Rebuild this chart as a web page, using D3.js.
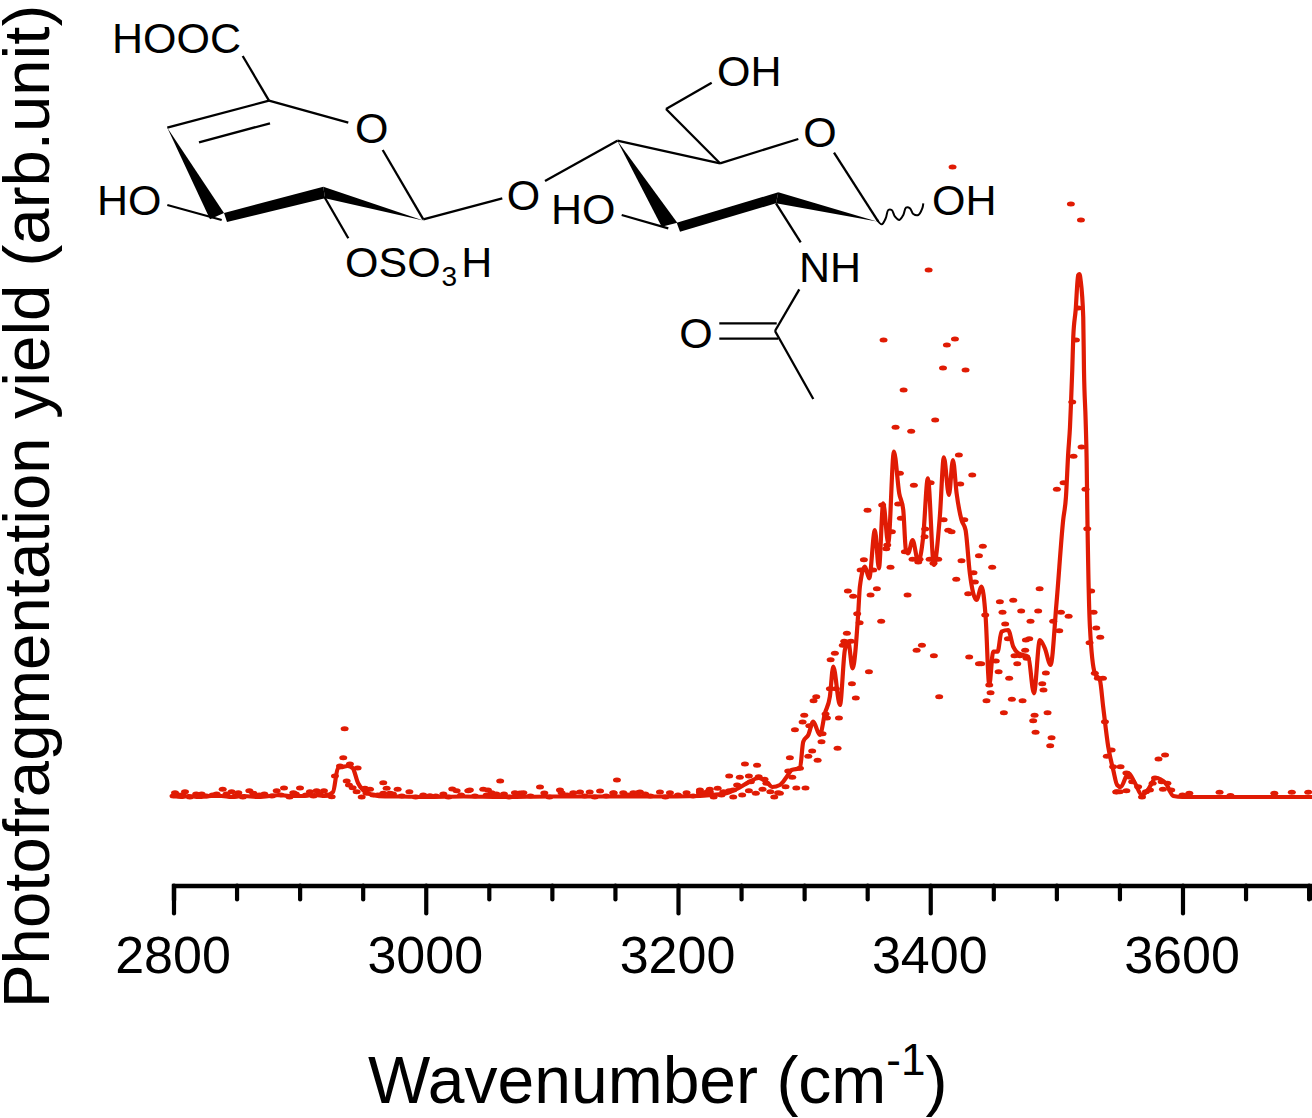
<!DOCTYPE html>
<html><head><meta charset="utf-8">
<script src="https://cdn.jsdelivr.net/npm/d3@7"></script>
<style>html,body{margin:0;padding:0;background:#fff}svg{display:block}text{font-family:"Liberation Sans",Arial,sans-serif;fill:#000}</style>
</head><body><svg id="c" width="1312" height="1118"></svg>
<script>
const LINE_WN=[2800,2806,2812,2820,2830,2838,2846,2856,2866,2876,2884,2892,2902,2912,2920,2926.5,2930.4,2934.4,2938,2942,2946.3,2950.2,2958.2,2967.7,2980,3000,3030,3060,3100,3140,3180,3217.4,3226.7,3239.1,3248.3,3256.3,3264,3270.1,3274.8,3280.8,3286.1,3290.1,3296.7,3299.3,3303.3,3307.2,3312.5,3316.5,3320.4,3323.1,3328.4,3332.3,3335,3338.4,3342.9,3344.2,3348.2,3351.6,3356.1,3359.3,3362.7,3366.7,3371.2,3375.4,3378.6,3380.7,3382.5,3386,3390.5,3394.4,3398.1,3402.9,3407.6,3410.8,3414.8,3418,3420.9,3424.8,3428,3431.4,3436.7,3440.7,3443.9,3446.8,3449.9,3453.4,3456.5,3461.8,3465.8,3469.8,3477.7,3482.2,3486.9,3490.9,3495.4,3500.1,3505.4,3507.6,3509.4,3510.8,3511.6,3512.6,3513.4,3515.3,3517.3,3518.3,3519.2,3521.3,3521.9,3523.2,3524,3524.5,3526.6,3530.5,3534.5,3537.1,3541.1,3545.1,3548.2,3551,3557.1,3562.3,3567.9,3573,3578.8,3586.6,3592.7,3600,3650,3703];
const LINE_Y=[1,0,1,0,1,1,0,1,0,1,2,1,1,2,1,5,29,30,31,29,14,7,2,0.5,0.5,0,0.5,0,0.5,0.5,0.5,1,2,4,9,15,19,15,10,12,20,27,28.7,55.3,62,75.3,62,83.7,100.3,130.3,92,147,155.3,128.7,183.7,210.3,230.3,218.7,267,228.7,293.7,253.7,345.3,303.7,287,247,243.7,257,235.3,260.3,318.7,232,280.3,339.7,302,337,303.7,277,267,223.7,197,210.3,180.3,112,145.3,145.3,165.3,167,150.3,143.7,140.3,103.7,157,148.7,132,193.7,277,300,344,370,394,427,460,487,522,523,517,480,427,377,337,289,170.3,123.7,117,90.3,50.3,27,12,10,24,14,2,8,19,14,1,0,0,0];
const DOT_WN=[3372.5,3384.9,3403.9,3422.7,3433.3,3375.9,3400.3,3423.8,3387,3500.4,3505.7,3513.6,3520,3523.1,3524.5,3527.6,3529.5,3531.6,3534.8,3526.3,3530.5,3536.9,3538.5,3543.8,3540,3545,3547.5,3350.3,3361.9,3374.6,3376.7,3410.6,3427,3396,3369.6,3414.3,3416.9,3395.5,3365.9,3365.1,3441.7,3438.6,3379.9,3347.4,3386,3391.5,3390.5,3399.5,3406.3,3402.6,3424.8,3368.5,3449.1,3344.8,3354.8,3434.3,3420.6,3435.4,3357.7,3334.7,3352.7,3382,3338.9,3430.1,3486.7,3455.2,3465.8,3472.1,3485.6,3457.3,3503.6,3509.7,3342.1,3443.6,3479.5,3361.1,3344,3497.5,3459.4,3502.3,3333.9,3461.6,3478.5,3475.8,3331.8,3337.1,3330.7,3393.4,3389.2,3324.4,3475.3,3402.9,3430.9,3321,3452,3466.8,3471.1,3476.4,3438.6,3440.4,3469,3351.4,3454.2,3491.7,3462.6,3532.9,3337.9,3488.8,3446.8,3320.4,3325.2,3489.8,3447.8,3309.6,3341,3407.1,3464.7,3307.5,3444.6,3473.2,3493,3458.4,3300.1,3317,3482.7,3327.6,3318.1,3298.8,3481.6,3304.1,3292.7,3314.6,3483.5,3496.2,3313.8,3495.1,3326.5,3306.4,3303.3,3288.7,3310.7,3296.7,3287.4,3290.6,3285.3,3293.8,3301.1,3280.8,
3417.7,3398.7,3511.5,3519.5,3363,3419.6,3413.2,3410.1,3428,3378.9,3515.5,3517.3,3512.6,
3253.1,3262.7,3240.6,3249,3256.2,3231.4,3225.2,3217.4,3223.6,3236,3240.6,3246.9,3243.8,3250.9,3256.2,3257.8,3261.7,3264,3267,3268.6,3273.2,3279.4,3276.3,3228.3,3243.8,3234.5,3270.1,
3581,3586.2,3547.8,3550.2,3555.5,3550.9,3555.5,3557.7,3560.1,3564.8,3567.9,3571,3574.2,3576.3,3578.2,3584.5,3583.5,3588,3591.1,3605.4,3629.4,3672.8,3686.7,3699.7,3600,3638,
2801.2,2803.8,2809.1,2822.3,2834.2,2839,2846.1,2851.4,2860.1,2863.3,2881.8,2887.6,2895,2900.3,2908.2,2913.5,2919.3,2925.4,2928,2935.7,2934.6,2939.9,2946,2932,2937.3,2939.1,2942,2945.2,2949.2,2951.8,2955.8,2953.1,2958.4,2966.3,2969,2966.3,2977.7,2971.6,2987,3003.3,3014,3024.5,3033.7,3045.6,3048.3,
3059,3151.6,3090.6,3021,3035,3049.3,3074.8,3106.4,3122.3,3130,3138.2,3169.8,3185.7,3217.4,3225.3,3174,3094,3062,3149,
3052.2,3070.7,3077.4,3107.7,3117,3148.7,3156.6,3164.6,3168.5,3193.6,3206.8,3217.4,3222.7,
2800,2807,2813,2818,2826,2831,2842,2849,2855,2868,2872,2878,2885,2892,2897,2905,2911,2916,2922,2962,2974,2981,2992,2998,3008,3018,3028,3039,3056,3066,3083,3098,3112,3126,3134,3143,3160,3178,3190,3200,3212,3220];
const DOT_Y=[369.7,365.7,377,342,322,323.7,314.3,313,311.7,307.7,314.3,340.7,350,307.7,268.3,206,184.7,169,159.7,154.3,123.7,118.7,75.3,47,40.7,30.3,5,286.7,292,293,278.7,277.3,277.3,268,265.3,266.7,265.3,260.3,252,248.3,250.7,241.3,245.3,237.3,237.7,237.7,235,237.7,237.7,233.7,236.3,229.7,229.7,227,227,224.3,217.7,215,208.3,206,202,202,200.7,203.3,208.3,195.3,196.7,186,186,184.7,184.7,180.7,183.3,182,175.7,175.7,174.3,175.7,173,166.3,163.7,158.3,158.3,157,155.7,155.7,151.7,151.7,146.7,143.7,146.7,141.3,140,137.3,136,141.3,141.3,138.7,133.3,133.3,133.3,125.3,125.3,124,118.7,118.7,113.3,113.3,112,108.3,108.3,107,104.3,100.3,99,100.3,97.7,96.3,96.3,96.3,84.3,84.3,81.7,83,81.7,79,79,75,76.3,71.3,67.3,63.3,64.7,59.3,55.3,51.3,48.7,46,40.7,39.3,36.7,28.7,26,19.7,10.3,9,9,3.7,
630,527,593,577,457,458,452,429,427,407,457,489,395,
33,31.7,21,19.7,21,8.7,7.7,5.3,5.3,5.3,6.3,12,7,2,6.3,15.3,3.7,20.3,7.7,17.7,5.3,4.3,0,0,0,2,13.7,
38,42,5.3,5.3,6.3,30.3,24,20,15.3,10.3,0,5.3,7,13.7,19,7.7,15.3,13.7,7,3.7,4.7,3.7,4.7,4.7,2,1.5,
4.3,2,5.3,3,3,7.7,5.3,4.3,6.3,3.7,6.3,9,4.3,9,5.3,6.3,6.3,0.3,21,68.3,39.3,33,29,31,16,12,9.3,5.3,0,8.7,7.7,3.7,2,14.3,8.7,3.7,7.7,3.7,5.3,1.3,3,6.3,6.3,7.7,2,
16,17,10,8,7,7,4,7,5,5,6,5,5,7,5,3,4,3,4,
4.3,4.3,4.3,4.3,4.3,4.3,4.3,4.3,4.3,4.3,4.3,4.3,4.3,
1,2,0,3,1,2,3,1,0,2,3,1,2,0,3,2,1,3,2,2,3,1,0,2,1,0,2,1,3,0,1,0,2,1,0,1,2,1,0,2,1,3];
const MAJOR=[2800,3000,3200,3400,3600];
const ALL_TICKS=d3.range(2800,3701,50);
const X_TITLE="Wavenumber (cm";
const Y_TITLE="Photofragmentation yield (arb.unit)";

const BONDS=[[242.7,56,269,100.7],[269,100.7,167.3,127.7],[199,142.3,270,123.3],[269,100.7,348.3,122.7],[382.7,150,423.3,219.3],[423.3,219.3,502.3,198.3],[167.3,205,221.7,220],[324.3,196.7,348.3,238.3],
[545,181,617.3,140.7],[617.3,140.7,720,163.3],[720,163.3,666,109],[666,109,711.7,82.7],[720,163.3,798.3,139],[834,152.7,878.3,221.7],[621.7,215,668.3,228.3],[776,203.3,800.7,242.3],[799.3,289.3,775,331],[719.3,323.3,776.7,323.3],[719.3,338.7,778.3,338.7],[775,331,813.3,399]];
const SOLID=[[[167.3,127.7],[210,219.3],[224,213]],[[224,213],[323.3,186.7],[325,198.3],[227,222]],[[323.3,186.7],[325,198.3],[423.3,220.5]],
[[617.3,140.7],[661.7,226.7],[677.3,222.7]],[[676.7,222.7],[778.3,192.3],[776,203.3],[680,231.7]],[[778.3,192.3],[776,203.3],[877,221.5]]];
const WAVY=[[877.3,220],[881.7,224.3],[885.7,218.3],[888.3,210],[891.7,210],[895,216.7],[899.3,220],[903.3,215],[906,207.7],[910,208.3],[913.3,214],[918.3,215],[922.3,208.3],[923.3,203.3]];
const ATOMS=[["HOOC",112,53,"start"],["O",371.7,143.3,"middle"],["HO",97,215,"start"],["O",523.5,210,"middle"],["OH",717,86,"start"],["O",820,147.3,"middle"],["HO",551,224,"start"],["OH",932,215,"start"],["NH",799,281.7,"start"],["O",696,348.3,"middle"]];

const svg=d3.select("#c");
const x=d3.scaleLinear().domain([2800,3703]).range([173.5,1312.4]);
const y=d3.scaleLinear().domain([0,797]).range([797,0]);
const RED="#e01b04";

// molecule
const mol=svg.append("g");
mol.selectAll("line").data(BONDS).join("line").attr("x1",d=>d[0]).attr("y1",d=>d[1]).attr("x2",d=>d[2]).attr("y2",d=>d[3]).attr("stroke","#000").attr("stroke-width",2.3);
mol.selectAll("polygon").data(SOLID).join("polygon").attr("points",d=>d.join(" ")).attr("fill","#000");
mol.append("path").attr("d",d3.line().curve(d3.curveCatmullRom)(WAVY)).attr("fill","none").attr("stroke","#000").attr("stroke-width",2);
mol.selectAll("text.a").data(ATOMS).join("text").attr("class","a").attr("x",d=>d[1]).attr("y",d=>d[2]).attr("text-anchor",d=>d[3]).attr("font-size",43).text(d=>d[0]);
const so=mol.append("text").attr("x",345).attr("y",277).attr("font-size",43);
so.append("tspan").text("OSO");
so.append("tspan").attr("font-size",28).attr("dx",1).attr("dy",9).text("3");
so.append("tspan").attr("dx",4).attr("dy",-9).text("H");

// data
svg.append("g").selectAll("ellipse").data(DOT_WN.map((w,i)=>[w,DOT_Y[i]])).join("ellipse")
  .attr("cx",d=>x(d[0])).attr("cy",d=>y(d[1])).attr("rx",4).attr("ry",2.5).attr("fill",RED);
svg.append("path").attr("d",d3.line().x((d)=>x(d[0])).y(d=>y(d[1])).curve(d3.curveMonotoneX)(LINE_WN.map((w,i)=>[w,LINE_Y[i]])))
  .attr("fill","none").attr("stroke",RED).attr("stroke-width",4.2).attr("stroke-linejoin","round").attr("stroke-linecap","round");

// axis
const ax=svg.append("g").attr("transform","translate(0,885.5)").call(
  d3.axisBottom(x).tickValues(ALL_TICKS).tickSizeOuter(0).tickSize(15).tickFormat(d=>MAJOR.includes(d)?d:""));
ax.select(".domain").attr("stroke","#000").attr("stroke-width",4.4);
ax.selectAll(".tick line").attr("stroke","#000").attr("stroke-width",4.2).attr("stroke-linecap","round").attr("y1",0)
  .attr("y2",d=>MAJOR.includes(d)?28:14);
ax.selectAll(".tick text").attr("font-family",'"Liberation Sans",Arial,sans-serif').attr("font-size",52).attr("fill","#000").attr("y",0).attr("dy",0)
  .attr("transform","translate(-1,87)");
const xt=svg.append("text").attr("x",368).attr("y",1103).attr("font-size",66);
xt.append("tspan").text(X_TITLE);
xt.append("tspan").attr("font-size",44).attr("dy",-28).text("-1");
xt.append("tspan").attr("dy",28).text(")");
svg.append("text").attr("transform","translate(49,1008) rotate(-90)").attr("font-size",65.4).text(Y_TITLE);
</script></body></html>
